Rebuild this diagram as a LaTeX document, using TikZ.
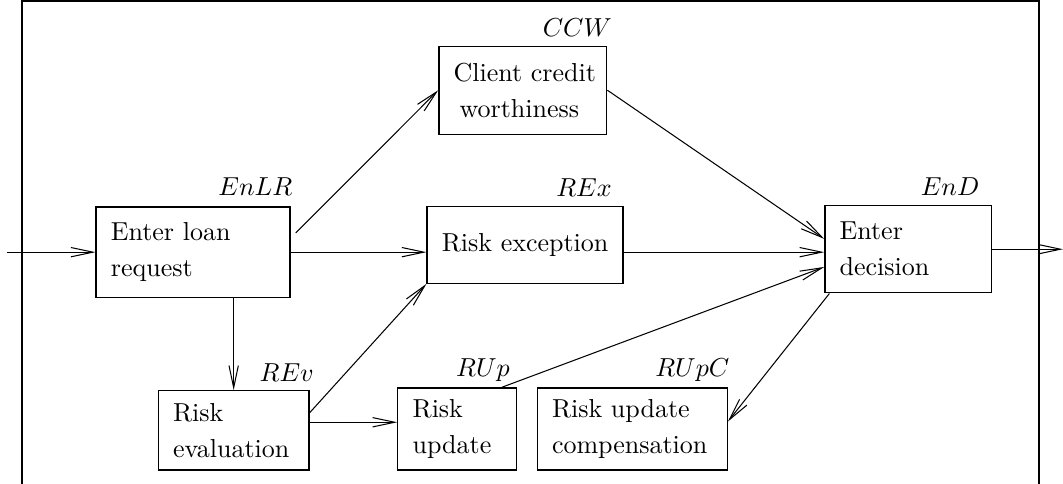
\documentclass[tikz,border=0pt]{standalone}
\usetikzlibrary{arrows.meta}

\tikzset{
  procbox/.style={draw, line width=0.5pt, align=left, inner xsep=0.2cm, inner ysep=0pt,
    font={\fontsize{10}{13.8}\selectfont\hyphenpenalty=10000}},
  tag/.style={anchor=east, inner sep=0pt},
  flow/.style={-{Straight Barb[length=8.5pt,width=3.6pt]}, line width=0.4pt}
}

\begin{document}
\begin{tikzpicture}

\useasboundingbox (0,0) rectangle (14.375,-6.545);

% frame
\draw[line width=0.6pt] (0.30,-6.545) |- (14.05,-0.015) -- (14.05,-6.545);

% activities
\node[procbox, text width=2.22cm, minimum height=1.22cm] (enlr) at (2.61,-3.41) {Enter~loan\\request};
\node[procbox, text width=1.87cm, minimum height=1.19cm] (ccw) at (7.07,-1.22) {Client~credit\\\hspace*{0.08cm}worthiness};
\node[procbox, text width=2.25cm, minimum height=1.04cm] (rex) at (7.10,-3.31) {Risk~exception};
\node[procbox, text width=1.85cm, minimum height=1.18cm] (end) at (12.28,-3.37) {Enter\\decision};
\node[procbox, text width=1.64cm, minimum height=1.07cm] (rev) at (3.16,-5.82) {Risk\\evaluation};
\node[procbox, text width=1.20cm, minimum height=1.11cm] (rup) at (6.18,-5.80) {Risk\\update};
\node[procbox, text width=2.17cm, minimum height=1.11cm] (rupc) at (8.55,-5.80) {Risk~update\\compensation};

% names
\node[tag] (enlrtag) at (3.96,-2.53) {$EnLR$};
\node[tag] (ccwtag) at (8.28,-0.37) {$CCW$};
\node[tag] (rextag) at (8.28,-2.54) {$REx$};
\node[tag] (endtag) at (13.25,-2.53) {$EnD$};
\node[tag] (revtag) at (4.25,-5.04) {$REv$};
\node[tag] (ruptag) at (6.90,-5.00) {$RUp$};
\node[tag] (rupctag) at (9.87,-5.00) {$RUpC$};

\coordinate (inp) at (0.09,-3.41);
\coordinate (outp) at (14.375,-3.37);

% flows
\draw[flow] (inp) -- (enlr.west);
\draw[flow] ([shift={(0.07,0.26)}]enlr.east) -- (ccw.west);
\draw[flow] (enlr.east) -- (enlr.east -| rex.west);
\draw[flow] (enlr.south -| rev.north) -- (rev.north);
\draw[flow] ([yshift=0.24cm]rev.east) -- (rex.south west);
\draw[flow] ([yshift=0.11cm]rev.east) -- ([yshift=0.11cm]rev.east -| rup.west);
\draw[flow] (ccw.east) -- ([yshift=0.14cm]end.west);
\draw[flow] (rex.east |- enlr.east) -- (end.west |- enlr.east);
\draw[flow] ([xshift=-0.2cm]rup.north east) -- ([yshift=-0.24cm]end.west);
\draw[flow] ([xshift=0.07cm]end.south west) -- ([yshift=0.1cm]rupc.east);
\draw[flow] (end.east) -- (outp);

\end{tikzpicture}
\end{document}
